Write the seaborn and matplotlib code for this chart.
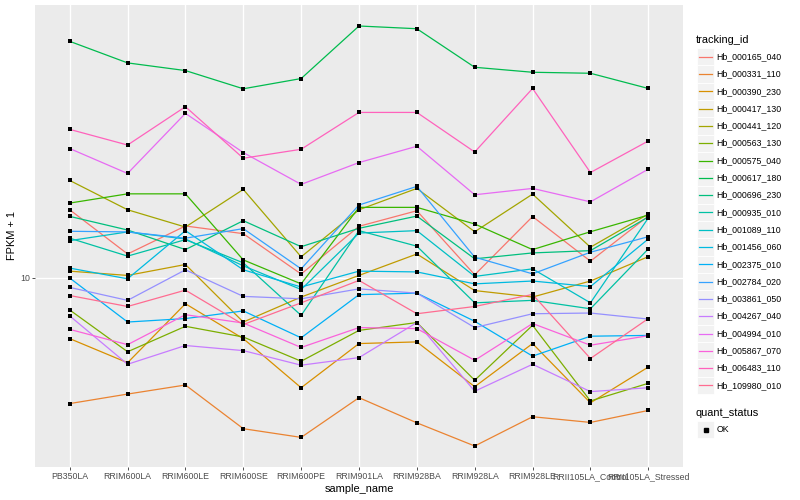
import numpy as np
import pandas as pd
import seaborn as sns
import matplotlib
matplotlib.use("Agg")
import matplotlib.pyplot as plt
from matplotlib.patches import Rectangle
from matplotlib.lines import Line2D
from matplotlib.ticker import FixedLocator, NullLocator, FuncFormatter

plt.rcParams["font.family"] = ["Liberation Sans", "DejaVu Sans"]

samples = ["PB350LA", "RRIM600LA", "RRIM600LE", "RRIM600SE", "RRIM600PE",
           "RRIM901LA", "RRIM928BA", "RRIM928LA", "RRIM928LE",
           "RRII105LA_Control", "RRII105LA_Stressed"]

tracking_ids = ["Hb_000165_040", "Hb_000331_110", "Hb_000390_230", "Hb_000417_130",
                "Hb_000441_120", "Hb_000563_130", "Hb_000575_040", "Hb_000617_180",
                "Hb_000696_230", "Hb_000935_010", "Hb_001089_110", "Hb_001456_060",
                "Hb_002375_010", "Hb_002784_020", "Hb_003861_050", "Hb_004267_040",
                "Hb_004994_010", "Hb_005867_070", "Hb_006483_110", "Hb_109980_010"]

# FPKM + 1, one value per sample (same order as samples)
hb_000165_040 = [14.07, 11.27, 12.97, 12.48, 10.19, 12.95, 14.00, 10.15, 13.60, 10.87, 13.63]
hb_000331_110 = [5.32, 5.58, 5.84, 4.69, 4.49, 5.48, 4.83, 4.30, 4.98, 4.84, 5.14]
hb_000390_230 = [7.37, 6.53, 8.78, 7.37, 5.76, 7.19, 7.25, 5.79, 7.19, 5.34, 6.39]
hb_000417_130 = [10.34, 10.12, 10.69, 8.01, 9.08, 10.12, 11.27, 9.38, 9.08, 9.84, 11.12]
hb_000441_120 = [16.30, 14.07, 12.90, 15.58, 11.11, 14.07, 15.66, 12.60, 15.22, 11.66, 13.77]
hb_000563_130 = [8.51, 6.90, 7.84, 7.43, 6.58, 7.68, 7.99, 5.98, 7.88, 5.39, 5.89]
hb_000575_040 = [14.55, 15.24, 15.24, 10.94, 9.70, 14.24, 14.24, 13.10, 11.52, 12.60, 13.70]
hb_000617_180 = [32.76, 29.40, 28.29, 25.82, 27.18, 35.38, 34.90, 28.76, 28.05, 27.91, 25.86]
hb_000696_230 = [13.61, 12.71, 11.52, 13.32, 11.69, 12.82, 13.63, 11.00, 11.33, 11.46, 13.57]
hb_000935_010 = [12.20, 11.15, 12.11, 10.78, 8.28, 12.67, 11.72, 8.82, 8.93, 8.56, 11.56]
hb_001089_110 = [12.05, 12.59, 12.15, 10.62, 9.43, 12.52, 12.67, 10.07, 10.46, 8.82, 13.50]
hb_001456_060 = [10.50, 9.95, 12.67, 10.41, 9.55, 10.34, 10.30, 9.70, 9.84, 9.57, 12.15]
hb_002375_010 = [9.99, 8.01, 8.15, 8.47, 7.40, 9.19, 9.26, 8.04, 6.75, 7.46, 7.49]
hb_002784_020 = [12.63, 12.59, 12.20, 12.80, 10.46, 14.41, 15.82, 11.09, 10.20, 11.37, 12.29]
hb_003861_050 = [9.53, 8.93, 10.41, 9.11, 9.00, 9.46, 9.26, 7.79, 8.35, 8.38, 8.13]
hb_004267_040 = [8.26, 6.48, 7.12, 6.94, 6.45, 6.70, 7.99, 5.66, 6.48, 5.65, 5.76]
hb_004994_010 = [19.13, 16.88, 22.82, 18.75, 15.98, 17.83, 19.35, 15.17, 15.66, 14.64, 17.25]
hb_005867_070 = [7.72, 7.15, 8.31, 7.97, 7.05, 7.79, 7.75, 6.61, 7.95, 7.13, 7.48]
hb_006483_110 = [21.06, 19.47, 23.60, 18.22, 19.06, 22.93, 22.93, 18.80, 25.86, 16.96, 19.87]
hb_109980_010 = [9.15, 8.66, 9.40, 7.91, 8.82, 9.87, 8.35, 8.66, 9.20, 6.67, 8.15]

series = [hb_000165_040, hb_000331_110, hb_000390_230, hb_000417_130, hb_000441_120,
          hb_000563_130, hb_000575_040, hb_000617_180, hb_000696_230, hb_000935_010,
          hb_001089_110, hb_001456_060, hb_002375_010, hb_002784_020, hb_003861_050,
          hb_004267_040, hb_004994_010, hb_005867_070, hb_006483_110, hb_109980_010]

# ggplot default hue palette for 20 levels
colors = ["#F8766D", "#EA8331", "#D89000", "#C09B00", "#A3A500", "#7CAE00", "#39B600",
          "#00BB4E", "#00BF7D", "#00C1A3", "#00BFC4", "#00BAE0", "#00B0F6", "#35A2FF",
          "#9590FF", "#C77CFF", "#E76BF3", "#FA62DB", "#FF62BC", "#FF6C91"]

rows = []
for tid, vals in zip(tracking_ids, series):
    for s, v in zip(samples, vals):
        rows.append({"tracking_id": tid, "sample_name": s, "fpkm": v, "quant_status": "OK"})
df = pd.DataFrame(rows)

W, H = 800, 500
fig = plt.figure(figsize=(W / 100, H / 100), dpi=100)
# panel box in pixels: left 35, right 683, top 5, bottom 467
ax = fig.add_axes([35 / W, 1 - 467 / H, (683 - 35) / W, (467 - 5) / H])
ax.set_yscale("log")

sns.lineplot(data=df, x="sample_name", y="fpkm", hue="tracking_id",
             hue_order=tracking_ids, palette=colors, linewidth=0.9,
             sort=False, estimator=None, legend=False, ax=ax)
sns.scatterplot(data=df, x="sample_name", y="fpkm", color="black", marker="s",
                s=6, linewidth=0, legend=False, ax=ax, zorder=3)

lo, hi = np.log10(df["fpkm"].min()), np.log10(df["fpkm"].max())
pad = 0.05 * (hi - lo)
ax.set_ylim(10 ** (lo - pad), 10 ** (hi + pad))
ax.set_xlim(-0.6, len(samples) - 0.4)

ax.set_facecolor("#EBEBEB")
for sp in ax.spines.values():
    sp.set_visible(False)
ax.yaxis.set_major_locator(FixedLocator([10]))
ax.yaxis.set_minor_locator(NullLocator())
ax.yaxis.set_major_formatter(FuncFormatter(lambda v, p: f"{v:g}"))
ax.grid(True, which="major", color="white", linewidth=1.0)
ax.set_axisbelow(True)
ax.tick_params(length=2, width=0.6, color="#333333", labelsize=6.3,
               labelcolor="#4D4D4D", pad=1.8)
ax.set_xlabel("sample_name", fontsize=7.9, labelpad=2)
ax.set_ylabel("FPKM + 1", fontsize=7.9, labelpad=2)


def fx(px):
    return px / W


def fy(py):
    return 1 - py / H


# legend: tracking_id
fig.text(fx(696), fy(40), "tracking_id", fontsize=7.9, va="center", ha="left")
key_h = 17.3
for i, (tid, c) in enumerate(zip(tracking_ids, colors)):
    cy = 56.7 + i * key_h
    fig.add_artist(Rectangle((fx(697), fy(cy + key_h / 2)), 17 / W, key_h / H,
                             transform=fig.transFigure, facecolor="#F2F2F2",
                             edgecolor="white", linewidth=0.6))
    fig.add_artist(Line2D([fx(699), fx(712)], [fy(cy), fy(cy)],
                          transform=fig.transFigure, color=c, linewidth=0.9))
    fig.text(fx(716.5), fy(cy), tid, fontsize=6.3, va="center", ha="left")

# legend: quant_status
fig.text(fx(696), fy(412.5), "quant_status", fontsize=7.9, va="center", ha="left")
cy = 429.5
fig.add_artist(Rectangle((fx(697), fy(cy + key_h / 2)), 17 / W, key_h / H,
                         transform=fig.transFigure, facecolor="#F2F2F2",
                         edgecolor="white", linewidth=0.6))
fig.add_artist(Line2D([fx(705.5)], [fy(cy)], transform=fig.transFigure,
                      marker="s", markersize=2.4, color="black", linestyle="none"))
fig.text(fx(716.5), fy(cy), "OK", fontsize=6.3, va="center", ha="left")

fig.savefig("out.png", dpi=100)
